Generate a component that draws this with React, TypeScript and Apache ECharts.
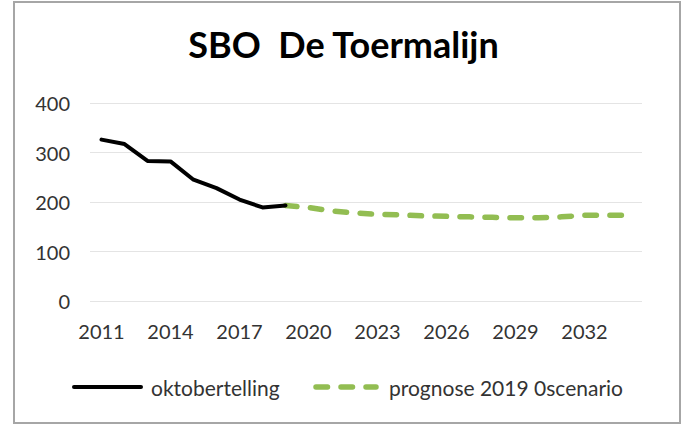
import React, { useEffect, useRef } from "react";
import * as echarts from "echarts";

const years: string[] = [
  "2011", "2012", "2013", "2014", "2015", "2016", "2017", "2018", "2019", "2020", "2021", "2022",
  "2023", "2024", "2025", "2026", "2027", "2028", "2029", "2030", "2031", "2032", "2033", "2034",
];
// oktobertelling 2011..2019
const oktobertelling: number[] = [326, 317, 283, 282, 245, 228, 205, 189, 193];
// prognose 2019..2034
const prognose: number[] = [193, 189, 182, 178, 175, 174, 172, 171, 170, 169, 168, 168, 170, 173, 173, 173];
const seriesNames: string[] = ["oktobertelling", "prognose 2019 0scenario"];
const yTicks = { min: 0, max: 400, interval: 100 };

const FONT = "Lato";
const BLACK = "#000000";
const GREEN = "#92bd52";
const LABEL = "#333333";

export default function App() {
  const ref = useRef<HTMLDivElement>(null);
  useEffect(() => {
    document.body.style.margin = "0";
    if (!ref.current) return;
    const chart = echarts.init(ref.current, undefined, { renderer: "svg" });
    const okt = years.map((_, i) => (i < oktobertelling.length ? oktobertelling[i] : null));
    const startIdx = years.indexOf("2019");
    const prog = years.map((_, i) =>
      i >= startIdx && i - startIdx < prognose.length ? prognose[i - startIdx] : null
    );
    const legendY = 387;
    chart.setOption({
      animation: false,
      backgroundColor: "#ffffff",
      title: {
        text: "SBO  De Toermalijn",
        left: "center",
        top: 21,
        textStyle: { fontFamily: FONT, fontWeight: "bold", fontSize: 36, color: "#000000" },
      },
      graphic: [
        {
          type: "rect",
          shape: { x: 14, y: 2, width: 666, height: 421 },
          style: { fill: "none", stroke: "#a6a6a6", lineWidth: 2 },
          silent: true,
        },
        {
          type: "line",
          shape: { x1: 74, y1: legendY, x2: 141, y2: legendY },
          style: { stroke: BLACK, lineWidth: 4, lineCap: "round" },
          silent: true,
        },
        {
          type: "text",
          x: 151,
          y: legendY,
          style: {
            text: seriesNames[0],
            fontFamily: FONT,
            fontSize: 21,
            fill: LABEL,
            verticalAlign: "middle",
            align: "left",
          },
          silent: true,
        },
        {
          type: "line",
          shape: { x1: 316, y1: legendY, x2: 376, y2: legendY },
          style: { stroke: GREEN, lineWidth: 5.5, lineCap: "round", lineDash: [11.5, 13.5] },
          silent: true,
        },
        {
          type: "text",
          x: 389,
          y: legendY,
          style: {
            text: seriesNames[1],
            fontFamily: FONT,
            fontSize: 21,
            fill: LABEL,
            verticalAlign: "middle",
            align: "left",
          },
          silent: true,
        },
      ],
      grid: { left: 90, right: 45, top: 103, bottom: 124, containLabel: false },
      xAxis: {
        type: "category",
        data: years,
        boundaryGap: true,
        axisLine: { show: false },
        axisTick: { show: false },
        axisLabel: { interval: 2, margin: 20, fontFamily: FONT, fontSize: 20, color: LABEL },
        splitLine: { show: false },
      },
      yAxis: {
        type: "value",
        min: yTicks.min,
        max: yTicks.max,
        interval: yTicks.interval,
        axisLine: { show: false },
        axisTick: { show: false },
        axisLabel: { margin: 20, fontFamily: FONT, fontSize: 20, color: LABEL },
        splitLine: { lineStyle: { color: "#e4e4e4", width: 1 } },
      },
      series: [
        {
          name: seriesNames[0],
          type: "line",
          data: okt,
          symbol: "none",
          lineStyle: { color: BLACK, width: 4, cap: "round", join: "round" },
          itemStyle: { color: BLACK },
          z: 3,
        },
        {
          name: seriesNames[1],
          type: "line",
          data: prog,
          symbol: "none",
          lineStyle: { color: GREEN, width: 5.5, type: [11.5, 13.5], cap: "round", join: "round" },
          itemStyle: { color: GREEN },
          z: 2,
        },
      ],
    });
    return () => chart.dispose();
  }, []);
  return <div ref={ref} style={{ width: 687, height: 425 }} />;
}
